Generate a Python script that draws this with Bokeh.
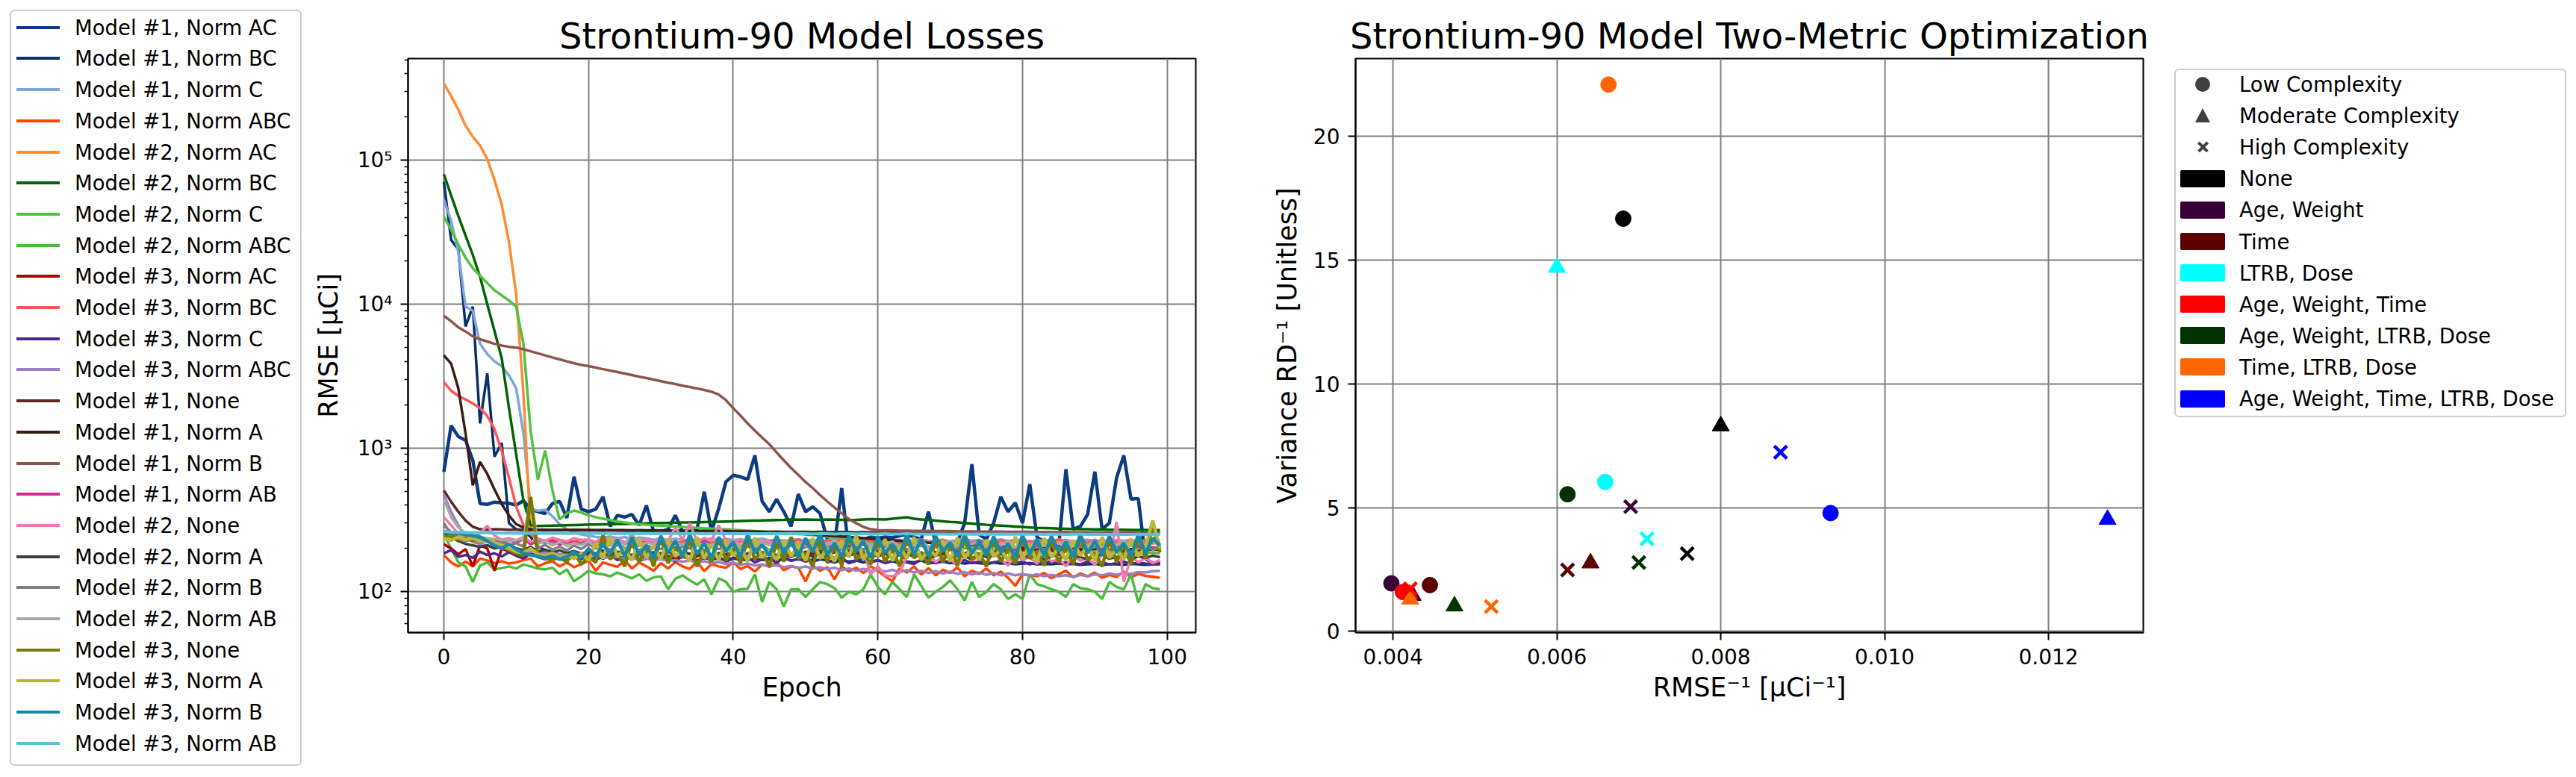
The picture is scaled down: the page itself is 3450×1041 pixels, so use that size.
from bokeh.plotting import figure
from bokeh.layouts import row
from bokeh.models import FixedTicker, PrintfTickFormatter, Range1d, ColumnDataSource, Div
from bokeh.embed import file_html
from bokeh.resources import INLINE

FONT = "DejaVu Sans"

# ---------------- Left chart data: RMSE per epoch (uCi) ----------------
series_names = [
    "Model #1, Norm AC", "Model #1, Norm BC", "Model #1, Norm C", "Model #1, Norm ABC",
    "Model #2, Norm AC", "Model #2, Norm BC", "Model #2, Norm C", "Model #2, Norm ABC",
    "Model #3, Norm AC", "Model #3, Norm BC", "Model #3, Norm C", "Model #3, Norm ABC",
    "Model #1, None", "Model #1, Norm A", "Model #1, Norm B", "Model #1, Norm AB",
    "Model #2, None", "Model #2, Norm A", "Model #2, Norm B", "Model #2, Norm AB",
    "Model #3, None", "Model #3, Norm A", "Model #3, Norm B", "Model #3, Norm AB",
]

m1_norm_ac = [683, 1430, 1200, 1130, 820, 410, 405, 420, 415, 412,
              400, 430, 375, 360, 350, 409, 425, 326, 631, 375,
              360, 375, 457, 285, 340, 330, 345, 290, 398, 262,
              262, 272, 340, 262, 262, 272, 496, 262, 380, 582,
              645, 630, 603, 887, 425, 360, 440, 360, 285, 478,
              360, 390, 350, 232, 214, 526, 190, 240, 232, 240,
              236, 240, 238, 245, 251, 240, 232, 360, 214, 198,
              206, 222, 300, 771, 250, 232, 300, 457, 360, 415,
              300, 560, 240, 222, 198, 206, 711, 272, 285, 345,
              684, 272, 300, 620, 887, 440, 445, 170, 158, 158]
m1_norm_bc = [71000, 28000, 24000, 7000, 9600, 1480, 3300, 870, 1080, 300,
              272, 268, 240, 205, 195, 188, 180, 185, 176, 182,
              175, 178, 170, 182, 176, 172, 180, 168, 175, 170,
              178, 172, 168, 175, 170, 165, 172, 168, 170, 165,
              172, 168, 165, 170, 166, 168, 163, 170, 165, 168,
              166, 162, 168, 165, 160, 166, 162, 165, 160, 163,
              165, 160, 163, 158, 162, 160, 165, 158, 160, 162,
              158, 160, 157, 160, 158, 156, 160, 157, 158, 155,
              157, 158, 155, 156, 155, 157, 155, 156, 154, 155,
              156, 154, 155, 155, 154, 156, 155, 154, 155, 155]
m1_norm_c = [53000, 38000, 23000, 9600, 9000, 5300, 4500, 4000, 3700, 3200,
             2600, 1260, 380, 365, 372, 335, 295, 272, 258, 250,
             245, 240, 238, 242, 236, 240, 232, 238, 235, 230,
             236, 228, 234, 230, 226, 232, 228, 235, 229, 233,
             228, 232, 226, 230, 234, 227, 231, 225, 229, 232,
             226, 230, 224, 228, 232, 226, 229, 223, 228, 231,
             225, 229, 226, 230, 224, 228, 231, 225, 227, 230,
             224, 228, 232, 226, 229, 223, 227, 231, 225, 228,
             230, 224, 228, 226, 231, 225, 229, 223, 227, 230,
             225, 228, 224, 229, 226, 230, 224, 227, 229, 226]
m1_norm_abc = [180, 160, 150, 162, 150, 170, 165, 158, 163, 157,
               160, 166, 170, 150, 158, 163, 150, 160, 148, 156,
               165, 140, 160, 154, 149, 166, 145, 160, 150, 140,
               158, 145, 161, 150, 144, 162, 139, 156, 150, 147,
               160, 144, 151, 138, 155, 149, 160, 141, 150, 147,
               118, 152, 140, 148, 122, 150, 138, 147, 135, 150,
               140, 128, 118, 145, 136, 150, 132, 146, 130, 142,
               135, 148, 128, 140, 133, 145, 130, 138, 125, 110,
               132, 130, 128, 135, 124, 132, 140, 126, 134, 128,
               136, 125, 131, 127, 138, 126, 133, 129, 127, 125]
m2_norm_ac = [342000, 280000, 225000, 174000, 146000, 127000, 102000, 73000, 49000, 27000,
              11700, 2400, 250, 232, 225, 220, 222, 218, 221, 219,
              223, 217, 220, 222, 216, 221, 219, 224, 218, 220,
              222, 217, 221, 219, 223, 216, 220, 222, 218, 221,
              219, 223, 217, 220, 222, 216, 221, 219, 224, 218,
              220, 222, 217, 221, 219, 223, 216, 220, 222, 218,
              221, 219, 223, 217, 220, 222, 216, 221, 219, 224,
              218, 220, 222, 217, 221, 219, 223, 216, 220, 222,
              218, 221, 219, 223, 217, 220, 222, 216, 221, 219,
              224, 218, 220, 222, 217, 221, 219, 223, 216, 220]
m2_norm_bc = [80000, 57000, 41000, 30000, 22000, 15500, 10000, 6500, 4200, 1900,
              900, 430, 290, 286, 287, 288, 289, 290, 291, 292,
              293, 293, 294, 295, 296, 296, 297, 298, 299, 300,
              300, 301, 302, 303, 303, 304, 305, 306, 307, 308,
              309, 310, 311, 312, 313, 314, 315, 316, 318, 317,
              318, 317, 316, 318, 317, 316, 315, 316, 318, 320,
              319, 318, 322, 326, 330, 322, 318, 316, 312, 309,
              306, 304, 300, 298, 295, 292, 290, 288, 286, 284,
              282, 280, 278, 277, 276, 275, 274, 273, 272, 272,
              271, 271, 270, 270, 270, 269, 269, 269, 268, 268]
m2_norm_c = [40500, 33000, 26000, 21000, 17800, 15800, 14000, 12500, 11500, 10600,
             9600, 5300, 1300, 600, 960, 510, 318, 350, 367, 355,
             340, 330, 322, 315, 308, 303, 298, 295, 292, 290,
             288, 286, 284, 282, 280, 278, 276, 275, 273, 272,
             270, 268, 266, 264, 262, 260, 258, 256, 254, 252,
             250, 247, 244, 241, 238, 235, 232, 229, 226, 224,
             221, 219, 216, 214, 212, 210, 208, 206, 205, 203,
             202, 201, 200, 199, 198, 197, 196, 195, 195, 194,
             193, 193, 192, 192, 191, 191, 190, 190, 189, 189,
             188, 188, 188, 187, 187, 187, 186, 186, 186, 185]
m2_norm_abc = [250, 200, 160, 150, 117, 152, 160, 143, 146, 150,
               145, 155, 150, 145, 143, 147, 132, 143, 118, 128,
               140, 134, 132, 128, 136, 130, 124, 132, 119, 126,
               128, 104, 123, 130, 120, 112, 122, 96, 124, 117,
               100, 104, 105, 132, 85, 117, 104, 79, 104, 104,
               92, 104, 117, 113, 106, 91, 100, 96, 104, 132,
               108, 96, 117, 104, 92, 132, 110, 91, 100, 108,
               120, 104, 87, 117, 92, 100, 113, 104, 89, 96,
               89, 132, 113, 109, 104, 100, 92, 113, 106, 104,
               100, 89, 117, 108, 104, 132, 84, 113, 106, 104]
m3_norm_ac = [214, 200, 182, 198, 150, 210, 200, 140, 200, 190,
              185, 172, 195, 180, 176, 190, 170, 186, 178, 168,
              184, 176, 192, 170, 182, 188, 174, 180, 190, 172,
              186, 178, 170, 190, 182, 176, 188, 172, 184, 180,
              190, 176, 184, 196, 180, 188, 174, 192, 182, 178,
              190, 184, 196, 178, 188, 200, 182, 192, 186, 178,
              194, 186, 198, 180, 192, 186, 176, 196, 188, 182,
              198, 190, 184, 196, 180, 192, 186, 200, 188, 184,
              196, 190, 200, 186, 194, 188, 198, 184, 196, 192,
              200, 188, 196, 202, 190, 198, 194, 200, 198, 198]
m3_norm_bc = [2860, 2500, 2300, 2170, 2040, 1890, 1670, 1350, 950, 620,
              390, 290, 250, 232, 226, 220, 228, 218, 224, 230,
              222, 216, 228, 220, 232, 218, 226, 214, 230, 222,
              218, 228, 215, 224, 232, 220, 226, 216, 230, 222,
              214, 226, 220, 232, 218, 224, 228, 216, 222, 230,
              218, 226, 214, 228, 222, 232, 216, 224, 220, 230,
              222, 216, 228, 220, 226, 214, 230, 218, 224, 228,
              216, 222, 232, 218, 226, 220, 214, 228, 222, 230,
              218, 224, 216, 228, 220, 232, 222, 214, 226, 220,
              230, 216, 224, 222, 218, 228, 214, 226, 220, 224]
m3_norm_c = [185, 195, 175, 180, 172, 190, 180, 185, 176, 188,
             178, 170, 185, 174, 168, 180, 172, 165, 178, 170,
             176, 168, 174, 180, 166, 172, 178, 164, 170, 176,
             168, 174, 162, 178, 170, 164, 172, 168, 176, 162,
             170, 166, 174, 160, 168, 172, 158, 176, 164, 170,
             162, 168, 210, 160, 166, 172, 158, 164, 170, 160,
             166, 158, 164, 205, 160, 156, 168, 162, 158, 164,
             160, 156, 166, 158, 162, 155, 160, 164, 156, 158,
             162, 155, 160, 158, 163, 156, 160, 158, 155, 162,
             157, 160, 155, 158, 162, 156, 159, 157, 155, 158]
m3_norm_abc = [470, 360, 290, 240, 222, 215, 210, 205, 200, 198,
               195, 192, 190, 188, 186, 185, 183, 182, 180, 178,
               176, 178, 174, 172, 175, 170, 172, 168, 170, 166,
               168, 164, 166, 162, 165, 160, 163, 158, 161, 156,
               159, 154, 157, 152, 155, 150, 153, 148, 151, 146,
               150, 145, 148, 143, 147, 141, 145, 140, 144, 139,
               143, 138, 142, 137, 141, 136, 140, 135, 139, 134,
               138, 133, 137, 132, 136, 131, 135, 130, 134, 130,
               133, 129, 132, 128, 131, 128, 130, 127, 131, 128,
               132, 130, 134, 131, 135, 133, 137, 136, 139, 140]
m1_none = [506, 423, 360, 313, 283, 272, 270, 272, 271, 270,
           270, 269, 270, 269, 268, 269, 268, 268, 267, 268,
           267, 267, 266, 267, 266, 266, 265, 266, 265, 265,
           265, 264, 265, 264, 264, 263, 264, 263, 263, 263,
           262, 263, 262, 262, 262, 261, 262, 261, 261, 261,
           261, 260, 261, 260, 260, 260, 260, 259, 260, 259,
           259, 259, 259, 258, 259, 258, 258, 258, 258, 258,
           257, 258, 257, 257, 257, 257, 257, 256, 257, 256,
           256, 256, 256, 256, 256, 255, 256, 255, 255, 255,
           255, 255, 255, 255, 254, 255, 254, 254, 254, 254]
m1_norm_a = [4400, 3860, 2600, 1260, 550, 800, 660, 515, 407, 339,
             295, 280, 272, 270, 270, 269, 270, 269, 270, 269,
             269, 268, 269, 268, 268, 268, 267, 268, 267, 267,
             267, 266, 266, 266, 265, 265, 265, 264, 264, 264,
             263, 262, 262, 261, 260, 259, 258, 257, 255, 254,
             252, 250, 248, 246, 244, 242, 240, 238, 236, 234,
             232, 230, 228, 226, 224, 222, 220, 219, 218, 216,
             215, 214, 212, 211, 210, 209, 208, 207, 206, 205,
             204, 203, 203, 202, 201, 201, 200, 200, 199, 199,
             198, 198, 198, 197, 197, 197, 196, 196, 196, 196]
m1_norm_b = [8300, 7600, 6900, 6450, 5970, 5700, 5500, 5300, 5150, 5050,
             4990, 4850, 4700, 4550, 4400, 4260, 4130, 4000, 3880, 3780,
             3710, 3620, 3530, 3450, 3370, 3290, 3210, 3130, 3060, 2990,
             2910, 2840, 2780, 2710, 2650, 2590, 2530, 2460, 2350, 2150,
             1890, 1680, 1480, 1320, 1180, 1060, 930, 820, 725, 650,
             580, 525, 470, 425, 385, 350, 320, 300, 282, 272,
             268, 267, 267, 266, 266, 265, 265, 265, 264, 264,
             264, 263, 263, 263, 262, 262, 262, 262, 261, 261,
             261, 261, 260, 260, 260, 260, 260, 259, 259, 259,
             259, 259, 258, 258, 258, 258, 258, 258, 257, 257]
m1_norm_ab = [290, 260, 240, 232, 226, 238, 222, 230, 216, 228,
              220, 232, 214, 226, 218, 230, 212, 224, 220, 216,
              226, 214, 222, 210, 228, 216, 220, 208, 226, 214,
              218, 206, 224, 212, 220, 208, 226, 214, 216, 204,
              222, 210, 218, 206, 224, 212, 214, 202, 220, 208,
              216, 204, 222, 210, 212, 200, 218, 206, 214, 202,
              220, 208, 210, 198, 216, 204, 212, 200, 218, 206,
              208, 196, 214, 202, 210, 198, 216, 204, 206, 194,
              212, 200, 208, 196, 214, 202, 204, 192, 210, 198,
              206, 194, 212, 200, 202, 190, 208, 196, 204, 200]
m2_none = [330, 290, 252, 235, 240, 255, 288, 245, 230, 236,
           228, 240, 222, 235, 226, 238, 230, 224, 236, 228,
           232, 222, 240, 226, 234, 220, 238, 228, 230, 224,
           236, 226, 280, 230, 300, 224, 236, 228, 290, 226,
           220, 232, 224, 216, 230, 222, 210, 228, 218, 208,
           224, 214, 205, 220, 210, 200, 216, 206, 196, 132,
           150, 130, 128, 135, 175, 190, 168, 185, 160, 178,
           170, 150, 182, 165, 176, 158, 186, 168, 152, 180,
           166, 174, 156, 184, 162, 170, 150, 178, 164, 172,
           154, 182, 168, 306, 117, 176, 160, 172, 158, 166]
m2_norm_a = [260, 240, 225, 215, 210, 205, 210, 200, 205, 198,
             200, 195, 205, 190, 196, 188, 194, 186, 192, 184,
             190, 184, 194, 182, 190, 186, 180, 192, 184, 188,
             182, 190, 178, 188, 184, 180, 190, 176, 186, 182,
             188, 178, 184, 190, 176, 186, 180, 184, 174, 188,
             182, 176, 186, 180, 172, 184, 178, 186, 174, 182,
             176, 184, 172, 180, 186, 174, 182, 170, 178, 184,
             172, 180, 176, 168, 182, 174, 178, 184, 170, 176,
             180, 172, 178, 168, 176, 182, 170, 178, 174, 168,
             176, 182, 170, 174, 180, 168, 176, 172, 178, 174]
m2_norm_b = [300, 250, 230, 225, 232, 220, 228, 215, 222, 210,
             218, 206, 440, 200, 212, 196, 206, 194, 210, 198,
             215, 200, 208, 196, 212, 200, 206, 194, 210, 202,
             198, 212, 196, 206, 200, 214, 194, 208, 198, 204,
             210, 196, 206, 200, 212, 194, 204, 198, 210, 196,
             204, 212, 198, 206, 194, 210, 200, 204, 196, 212,
             198, 206, 200, 214, 196, 204, 210, 198, 206, 194,
             208, 200, 212, 196, 204, 198, 210, 194, 206, 200,
             212, 198, 204, 196, 210, 200, 206, 194, 208, 198,
             204, 212, 196, 206, 200, 210, 198, 204, 196, 202]
m2_norm_ab = [440, 330, 280, 255, 245, 240, 236, 232, 230, 226,
              228, 232, 460, 215, 225, 210, 222, 208, 218, 212,
              224, 206, 230, 212, 226, 210, 256, 208, 220, 214,
              228, 206, 222, 212, 226, 208, 218, 210, 224, 204,
              220, 212, 228, 206, 222, 210, 226, 208, 218, 214,
              224, 206, 222, 210, 228, 204, 220, 212, 226, 208,
              218, 214, 224, 206, 222, 210, 228, 204, 220, 212,
              226, 208, 218, 214, 224, 206, 222, 210, 228, 204,
              220, 212, 226, 208, 218, 214, 224, 206, 222, 210,
              228, 204, 220, 212, 226, 208, 218, 214, 224, 210]
m3_none = [240, 245, 232, 236, 228, 240, 226, 215, 205, 195,
           185, 178, 455, 176, 170, 168, 172, 162, 188, 155,
           175, 160, 248, 168, 185, 150, 230, 160, 210, 150,
           240, 158, 205, 172, 228, 150, 196, 160, 236, 165,
           200, 158, 232, 168, 190, 150, 218, 162, 240, 170,
           185, 150, 230, 160, 205, 152, 242, 168, 190, 155,
           225, 162, 198, 150, 236, 172, 188, 155, 228, 160,
           210, 152, 240, 168, 185, 150, 232, 162, 198, 156,
           238, 170, 190, 152, 226, 160, 205, 154, 240, 166,
           186, 150, 230, 160, 212, 155, 242, 170, 300, 188]
m3_norm_a = [235, 228, 240, 230, 236, 224, 232, 220, 210, 200,
             190, 186, 200, 182, 178, 186, 174, 180, 170, 185,
             165, 220, 170, 240, 175, 200, 165, 235, 172, 210,
             168, 232, 176, 195, 162, 240, 170, 215, 165, 228,
             178, 205, 162, 238, 172, 198, 166, 230, 176, 212,
             164, 236, 170, 200, 162, 228, 174, 245, 168, 205,
             176, 232, 164, 210, 170, 240, 166, 198, 178, 226,
             162, 238, 172, 204, 166, 230, 176, 196, 164, 242,
             170, 214, 162, 236, 174, 200, 166, 228, 178, 210,
             164, 240, 172, 198, 168, 232, 176, 206, 313, 200]
m3_norm_b = [262, 258, 255, 250, 245, 240, 225, 210, 200, 215,
             198, 185, 180, 176, 172, 178, 168, 175, 190, 172,
             200, 176, 215, 182, 230, 175, 240, 180, 210, 170,
             245, 186, 226, 176, 252, 182, 218, 172, 240, 190,
             222, 176, 250, 186, 212, 178, 244, 184, 228, 174,
             236, 188, 252, 180, 218, 176, 246, 190, 226, 172,
             240, 186, 214, 178, 250, 182, 232, 176, 244, 190,
             220, 174, 252, 184, 228, 178, 242, 188, 216, 172,
             248, 182, 232, 176, 244, 190, 222, 174, 252, 186,
             226, 178, 244, 188, 218, 176, 250, 184, 236, 210]
m3_norm_ab = [262, 260, 259, 258, 258, 257, 257, 256, 256, 256,
              255, 256, 255, 255, 256, 255, 255, 254, 255, 255,
              254, 255, 255, 254, 255, 254, 254, 255, 254, 254,
              255, 254, 254, 253, 254, 254, 253, 254, 254, 253,
              254, 253, 254, 253, 253, 254, 253, 253, 254, 253,
              253, 252, 253, 253, 252, 253, 253, 252, 253, 252,
              252, 253, 252, 252, 253, 252, 252, 251, 252, 252,
              251, 252, 252, 251, 252, 251, 251, 252, 251, 251,
              252, 251, 251, 250, 251, 251, 250, 251, 251, 250,
              251, 250, 250, 251, 250, 250, 251, 250, 250, 250]

series_values = [
    m1_norm_ac, m1_norm_bc, m1_norm_c, m1_norm_abc,
    m2_norm_ac, m2_norm_bc, m2_norm_c, m2_norm_abc,
    m3_norm_ac, m3_norm_bc, m3_norm_c, m3_norm_abc,
    m1_none, m1_norm_a, m1_norm_b, m1_norm_ab,
    m2_none, m2_norm_a, m2_norm_b, m2_norm_ab,
    m3_none, m3_norm_a, m3_norm_b, m3_norm_ab,
]

# ---------------- Right chart data ----------------
feature_sets = ["None", "Age, Weight", "Time", "LTRB, Dose", "Age, Weight, Time",
                "Age, Weight, LTRB, Dose", "Time, LTRB, Dose", "Age, Weight, Time, LTRB, Dose"]
complexities = ["Low Complexity", "Moderate Complexity", "High Complexity"]
inv_rmse_low = [0.00681, 0.00398, 0.00445, 0.00659, 0.00412, 0.00613, 0.00663, 0.00934]
inv_rmse_mod = [0.00800, 0.00424, 0.00641, 0.00600, 0.00420, 0.00475, 0.00421, 0.01272]
inv_rmse_high = [0.00759, 0.00690, 0.00613, 0.00710, 0.00421, 0.00700, 0.00520, 0.00873]
inv_var_low = [16.68, 1.94, 1.87, 6.04, 1.59, 5.54, 22.10, 4.78]
inv_var_mod = [8.30, 1.45, 2.76, 14.71, 1.50, 1.02, 1.30, 4.52]
inv_var_high = [3.14, 5.04, 2.48, 3.74, 1.72, 2.78, 1.00, 7.24]

# ---------------- Styles ----------------
line_colors = ["#0b3b80", "#08306b", "#7ea6dc", "#ff4500",
               "#ff8c33", "#006400", "#52c142", "#4cbb3c",
               "#b00000", "#ff5555", "#4b2a8c", "#9b7fc0",
               "#5c2b22", "#3d1c14", "#8c564b", "#d42a94",
               "#f07aaa", "#404040", "#808080", "#a8a8a8",
               "#7a7a00", "#b8b83a", "#168aa6", "#5bc0de"]
line_widths = [4.5, 3.5, 3.5, 3.5, 3.5, 3.5, 3.5, 3.5, 3.5, 3.5, 3.5, 3.5,
               3.5, 3.5, 3.5, 3.5, 3.5, 3.5, 3.5, 3.5, 4.5, 4.5, 4.5, 4]
feature_colors = ["#000000", "#380038", "#5c0000", "#00ffff", "#ff0000",
                  "#003300", "#ff6600", "#0000ff"]
H = 1040
FRAME_TOP = 78
FRAME_H = 769
FRAME_BOTTOM = FRAME_TOP + FRAME_H
LEG_FONT = "font-family:'DejaVu Sans';font-size:27.5px;color:black;white-space:nowrap;"


def style_axis(ax, label_standoff, minor=True):
    ax.axis_line_color = "black"
    ax.axis_line_width = 2
    ax.major_tick_line_color = "black"
    ax.major_tick_line_width = 2
    ax.major_tick_in = 0
    ax.major_tick_out = 10
    if minor:
        ax.minor_tick_line_color = "black"
        ax.minor_tick_line_width = 1.5
        ax.minor_tick_in = 0
        ax.minor_tick_out = 5
    else:
        ax.minor_tick_line_color = None
    ax.major_label_text_font = FONT
    ax.major_label_text_font_size = "28px"
    ax.major_label_text_color = "black"
    ax.major_label_standoff = 11
    ax.axis_label_text_font = FONT
    ax.axis_label_text_font_size = "35px"
    ax.axis_label_text_font_style = "normal"
    ax.axis_label_text_color = "black"
    ax.axis_label_standoff = label_standoff


def style_common(p):
    p.outline_line_color = "black"
    p.outline_line_width = 2
    p.grid.grid_line_color = "#808080"
    p.grid.grid_line_width = 2
    p.title.text_font = FONT
    p.title.text_font_size = "48px"
    p.title.text_font_style = "normal"
    p.title.text_color = "black"
    p.title.align = "center"
    p.title.standoff = 6


def legend_label(left, yc, text):
    return (f'<div style="position:absolute;left:{left}px;top:{yc - 17:.1f}px;height:34px;'
            f'line-height:34px;{LEG_FONT}">{text}</div>')


# ---------------- Left legend (HTML box) ----------------
html1 = ['<div style="position:relative;width:416px;height:1040px;">',
         '<div style="position:absolute;left:13px;top:13px;width:391px;height:1013px;'
         'border:2px solid #cccccc;border-radius:6px;box-sizing:border-box;background:white;"></div>']
for i, (name, c) in enumerate(zip(series_names, line_colors)):
    yc = 36.7 + i * 41.7
    html1.append(f'<div style="position:absolute;left:22px;top:{yc - 2:.1f}px;width:58px;'
                 f'height:4px;background:{c};"></div>')
    html1.append(legend_label(100, yc, name))
html1.append('</div>')
leg1_div = Div(text="".join(html1), width=416, height=H, margin=0)

# ---------------- Left chart: losses ----------------
p1 = figure(frame_width=1055, frame_height=FRAME_H, y_axis_type="log",
            x_range=Range1d(-4.95, 103.95), y_range=Range1d(52, 510000),
            min_border_left=130, min_border_right=99, min_border_top=FRAME_TOP,
            min_border_bottom=H - FRAME_BOTTOM,
            title="Strontium-90 Model Losses", toolbar_location=None, output_backend="svg")
for vals, c, lw in zip(series_values, line_colors, line_widths):
    p1.line(x=list(range(len(vals))), y=vals, line_color=c, line_width=lw)
style_common(p1)
xt1 = FixedTicker(ticks=[0, 20, 40, 60, 80, 100])
p1.xaxis.ticker = xt1
p1.xgrid.ticker = xt1
minor_log = [m * 10 ** d for d in range(1, 6) for m in range(2, 10) if 52 <= m * 10 ** d <= 510000]
yt1 = FixedTicker(ticks=[100, 1000, 10000, 100000], minor_ticks=minor_log)
p1.yaxis.ticker = yt1
p1.ygrid.ticker = yt1
p1.yaxis.major_label_overrides = {100: "10²", 1000: "10³", 10000: "10⁴", 100000: "10⁵"}
p1.xaxis.axis_label = "Epoch"
p1.yaxis.axis_label = "RMSE [μCi]"
style_axis(p1.xaxis[0], 8, minor=False)
style_axis(p1.yaxis[0], 16, minor=True)

# ---------------- Right chart: two-metric ----------------
p2 = figure(frame_width=1055, frame_height=FRAME_H,
            x_range=Range1d(0.003543, 0.013157), y_range=Range1d(-0.05, 23.15),
            min_border_left=114, min_border_right=21, min_border_top=FRAME_TOP,
            min_border_bottom=H - FRAME_BOTTOM,
            title="Strontium-90 Model Two-Metric Optimization", toolbar_location=None,
            output_backend="svg")
style_common(p2)
src_low = ColumnDataSource(dict(x=inv_rmse_low, y=inv_var_low, c=feature_colors))
src_mod = ColumnDataSource(dict(x=inv_rmse_mod, y=inv_var_mod, c=feature_colors))
src_high = ColumnDataSource(dict(x=inv_rmse_high, y=inv_var_high, c=feature_colors))
p2.scatter("x", "y", source=src_low, marker="circle", size=21, fill_color="c", line_color="c")
p2.scatter("x", "y", source=src_mod, marker="triangle", size=23, fill_color="c", line_color="c")
p2.scatter("x", "y", source=src_high, marker="x", size=24, line_color="c", line_width=4.5)
xt2 = FixedTicker(ticks=[0.004, 0.006, 0.008, 0.010, 0.012])
p2.xaxis.ticker = xt2
p2.xgrid.ticker = xt2
p2.xaxis.formatter = PrintfTickFormatter(format="%.3f")
yt2 = FixedTicker(ticks=[0, 5, 10, 15, 20])
p2.yaxis.ticker = yt2
p2.ygrid.ticker = yt2
p2.xaxis.axis_label = "RMSE⁻¹ [μCi⁻¹]"
p2.yaxis.axis_label = "Variance RD⁻¹ [Unitless]"
style_axis(p2.xaxis[0], 8, minor=False)
style_axis(p2.yaxis[0], 12, minor=False)

# ---------------- Right legend (HTML box) ----------------
MK = "#404040"
html2 = ['<div style="position:relative;width:560px;height:1040px;">',
         '<div style="position:absolute;left:21px;top:92px;width:525px;height:467px;'
         'border:2px solid #cccccc;border-radius:6px;box-sizing:border-box;background:white;"></div>']
marker_html = [
    lambda yc: (f'<div style="position:absolute;left:49px;top:{yc - 10:.1f}px;width:20px;height:20px;'
                f'border-radius:50%;background:{MK};"></div>'),
    lambda yc: (f'<div style="position:absolute;left:49px;top:{yc - 10:.1f}px;width:0;height:0;'
                f'border-left:10px solid transparent;border-right:10px solid transparent;'
                f'border-bottom:19px solid {MK};"></div>'),
    lambda yc: (f'<div style="position:absolute;left:51px;top:{yc - 2:.1f}px;width:17px;height:3.5px;'
                f'background:{MK};transform:rotate(45deg);"></div>'
                f'<div style="position:absolute;left:51px;top:{yc - 2:.1f}px;width:17px;height:3.5px;'
                f'background:{MK};transform:rotate(-45deg);"></div>'),
]
for i, name in enumerate(complexities):
    yc = 113 + i * 42.1
    html2.append(marker_html[i](yc))
    html2.append(legend_label(108, yc, name))
for j, (name, c) in enumerate(zip(feature_sets, feature_colors)):
    yc = 113 + (j + 3) * 42.1
    html2.append(f'<div style="position:absolute;left:29px;top:{yc - 11.5:.1f}px;width:60px;'
                 f'height:23px;background:{c};border-radius:2px;"></div>')
    html2.append(legend_label(108, yc, name))
html2.append('</div>')
leg2_div = Div(text="".join(html2), width=560, height=H, margin=0)

layout = row(leg1_div, p1, p2, leg2_div, spacing=0)
open("out.html", "w").write(file_html(layout, INLINE))
